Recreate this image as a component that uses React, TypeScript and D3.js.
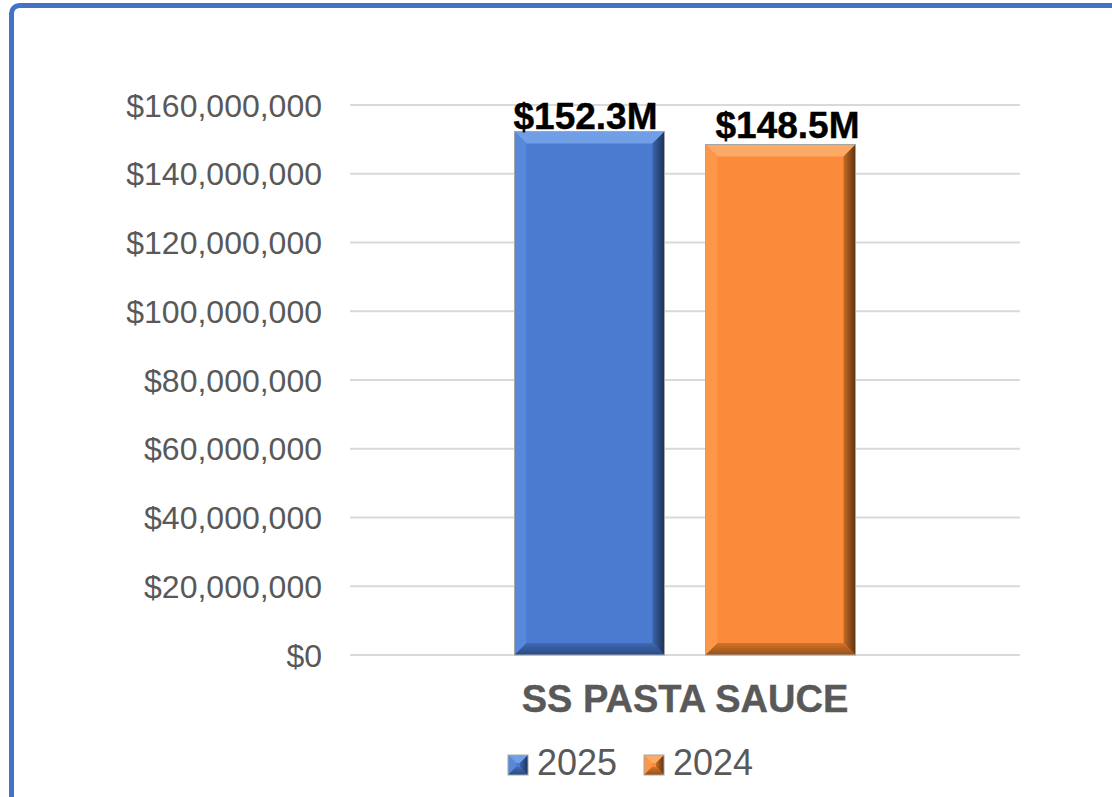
import React from "react";
import * as d3 from "d3";

const categories = ["SS PASTA SAUCE"];
const seriesNames = ["2025", "2024"];
const seriesValues = [152.3e6, 148.5e6];
const yTicks = [0, 20e6, 40e6, 60e6, 80e6, 100e6, 120e6, 140e6, 160e6];

const W = 1112;
const H = 797;

type Pal = { front: string; top: string; left: string; rIn: string; rOut: string; bIn: string; bOut: string };
const palettes: Pal[] = [
  { front: "#4A7BD1", top: "#709FE8", left: "#5888D9", rIn: "#3B64AA", rOut: "#1C3158", bIn: "#3F69B2", bOut: "#294A85" },
  { front: "#FB8A3A", top: "#FDAA66", left: "#FC9649", rIn: "#C56B25", rOut: "#5E3210", bIn: "#D27328", bOut: "#94501A" },
];

function Bevel({ x0, y0, x1, y1, b, p, id }: { x0: number; y0: number; x1: number; y1: number; b: number; p: Pal; id: string }) {
  const pts = (a: number[][]) => a.map((q) => q.join(",")).join(" ");
  return (
    <g>
      <defs>
        <linearGradient id={id + "r"} x1="0" x2="1" y1="0" y2="0">
          <stop offset="0" stopColor={p.rIn} />
          <stop offset="1" stopColor={p.rOut} />
        </linearGradient>
        <linearGradient id={id + "b"} x1="0" x2="0" y1="0" y2="1">
          <stop offset="0" stopColor={p.bIn} />
          <stop offset="1" stopColor={p.bOut} />
        </linearGradient>
      </defs>
      <rect x={x0} y={y0} width={x1 - x0} height={y1 - y0} fill={p.front} />
      <polygon points={pts([[x0, y0], [x1, y0], [x1 - b, y0 + b], [x0 + b, y0 + b]])} fill={p.top} />
      <polygon points={pts([[x0, y0], [x0 + b, y0 + b], [x0 + b, y1 - b], [x0, y1]])} fill={p.left} />
      <polygon points={pts([[x1, y0], [x1 - b, y0 + b], [x1 - b, y1 - b], [x1, y1]])} fill={`url(#${id}r)`} />
      <polygon points={pts([[x0, y1], [x1, y1], [x1 - b, y1 - b], [x0 + b, y1 - b]])} fill={`url(#${id}b)`} />
      <rect x={x0} y={y0} width={x1 - x0} height={y1 - y0} fill="none" stroke="#A6A6A6" strokeWidth={1} />
    </g>
  );
}

export default function App() {
  const plotL = 350, plotR = 1020, plotT = 105, plotB = 655;
  const x = d3.scaleBand<string>().domain(categories).range([plotL, plotR]);
  const xs = d3
    .scaleBand<string>()
    .domain(seriesNames)
    .range([0, x.bandwidth()])
    .paddingInner(41 / 191)
    .paddingOuter(0.861);
  const y = d3.scaleLinear().domain([0, 160e6]).range([plotB, plotT]);
  const fmt = d3.format("$,");
  const labelDx = [-4, 7];
  const labelDy = [-2, -7];

  return (
    <svg width={W} height={H} style={{ position: "absolute", left: 0, top: 0, background: "#fff" }} fontFamily="Arial, 'Liberation Sans', sans-serif">
      <rect x={11.5} y={5.5} width={1300} height={1000} rx={8} fill="none" stroke="#4472C4" strokeWidth={5} />
      {yTicks.map((t) => (
        <g key={t}>
          <line x1={plotL} x2={plotR} y1={y(t)} y2={y(t)} stroke="#D9D9D9" strokeWidth={2} />
          <text x={322} y={y(t) + 11.5} textAnchor="end" fontSize={32} fill="#595959">
            {fmt(t)}
          </text>
        </g>
      ))}
      {categories.map((c) =>
        seriesNames.map((s, i) => {
          const x0 = (x(c) as number) + (xs(s) as number);
          const x1 = x0 + xs.bandwidth();
          const v = seriesValues[i];
          return (
            <g key={c + s}>
              <Bevel x0={x0} x1={x1} y0={y(v)} y1={y(0)} b={12} p={palettes[i]} id={"bar" + i} />
              <text
                x={(x0 + x1) / 2 + labelDx[i]}
                y={y(v) + labelDy[i]}
                textAnchor="middle"
                fontSize={37}
                fontWeight="bold"
                fill="#000"
                stroke="#000"
                strokeWidth={0.4}
              >
                {`$${(v / 1e6).toFixed(1)}M`}
              </text>
            </g>
          );
        })
      )}
      {categories.map((c) => (
        <text key={c} x={(x(c) as number) + x.bandwidth() / 2} y={712} textAnchor="middle" fontSize={38} fontWeight="bold" fill="#595959" stroke="#595959" strokeWidth={0.4}>
          {c}
        </text>
      ))}
      {seriesNames.map((s, i) => {
        const lx = [508, 644][i];
        return (
          <g key={s}>
            <Bevel x0={lx} x1={lx + 20} y0={755} y1={775} b={8} p={palettes[i]} id={"leg" + i} />
            <text x={lx + 29} y={775} fontSize={36} fill="#595959">
              {s}
            </text>
          </g>
        );
      })}
    </svg>
  );
}
